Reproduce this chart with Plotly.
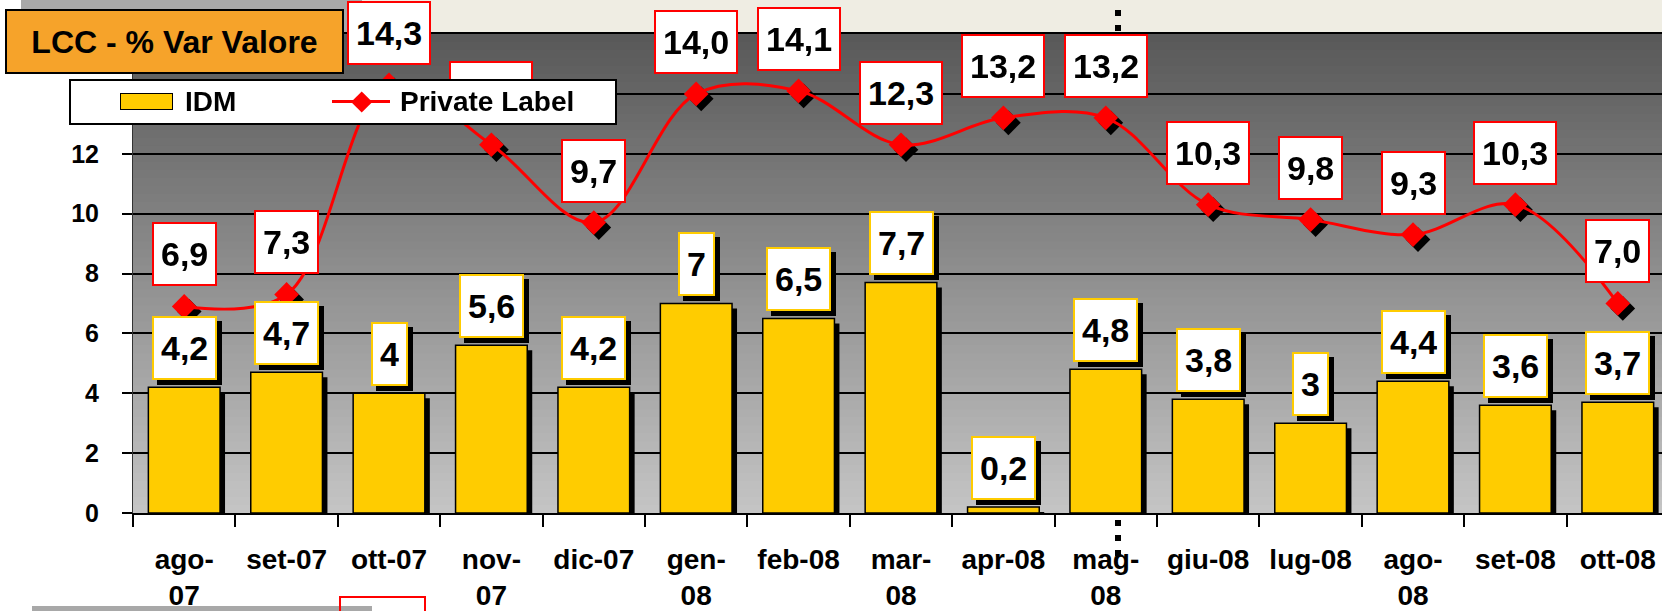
import plotly.graph_objects as go

# ---------------- data ----------------
categories = ["ago-07", "set-07", "ott-07", "nov-07", "dic-07", "gen-08", "feb-08",
              "mar-08", "apr-08", "mag-08", "giu-08", "lug-08", "ago-08", "set-08", "ott-08"]
tick_labels = ["ago-<br>07", "set-07", "ott-07", "nov-<br>07", "dic-07", "gen-<br>08", "feb-08",
               "mar-<br>08", "apr-08", "mag-<br>08", "giu-08", "lug-08", "ago-<br>08", "set-08", "ott-08"]
idm_values = [4.2, 4.7, 4.0, 5.6, 4.2, 7.0, 6.5, 7.7, 0.2, 4.8, 3.8, 3.0, 4.4, 3.6, 3.7]
pl_values = [6.9, 7.3, 14.3, 12.3, 9.7, 14.0, 14.1, 12.3, 13.2, 13.2, 10.3, 9.8, 9.3, 10.3, 7.0]
y_ticks = [0, 2, 4, 6, 8, 10, 12, 14, 16]
title_text = "LCC - % Var Valore"
series_names = ["IDM", "Private Label"]

# ---------------- geometry / style ----------------
W, H = 1662, 611
PL_, PR_, PT_, PB_ = 133, 1662, 34, 513          # plot area in pixels
CAT_PX = 102.4
X_RANGE = [-0.5, -0.5 + (PR_ - PL_) / CAT_PX]
Y_RANGE = [0, 16]
SH = 5  # shadow offset px
dxu = SH / CAT_PX
dyu = SH / ((PB_ - PT_) / (Y_RANGE[1] - Y_RANGE[0]))

FONT = "Liberation Sans, Arial, sans-serif"
YELLOW = "#FFCC00"
RED = "#FF0000"
ORANGE = "#F6A32A"


def px(xp):
    return (xp - PL_) / (PR_ - PL_)


def py(yp):
    return (PB_ - yp) / (PB_ - PT_)


def fmt_idm(v):
    s = ("%.1f" % v)
    if s.endswith(".0"):
        s = s[:-2]
    return s.replace(".", ",")


def fmt_pl(v):
    return ("%.1f" % v).replace(".", ",")


fig = go.Figure()

# invisible base trace so the base category axis knows its categories
fig.add_trace(go.Scatter(x=categories, y=idm_values, mode="markers", opacity=0,
                         hoverinfo="skip", showlegend=False, xaxis="x", yaxis="y"))
# shadows (shifted axes)
fig.add_trace(go.Bar(x=categories, y=idm_values, marker=dict(color="black", line=dict(width=0)),
                     width=0.7, showlegend=False, hoverinfo="skip", xaxis="x2", yaxis="y2"))
fig.add_trace(go.Scatter(x=categories, y=pl_values, mode="markers",
                         marker=dict(symbol="diamond", size=19, color="black"),
                         showlegend=False, hoverinfo="skip", xaxis="x2", yaxis="y2"))
# main traces
fig.add_trace(go.Bar(x=categories, y=idm_values, name=series_names[0],
                     marker=dict(color=YELLOW, line=dict(color="black", width=1.5)),
                     width=0.7, showlegend=False, xaxis="x3", yaxis="y3"))
fig.add_trace(go.Scatter(x=categories, y=pl_values, name=series_names[1], mode="lines+markers",
                         line=dict(color=RED, width=3, shape="spline", smoothing=1.0),
                         marker=dict(symbol="diamond", size=19, color=RED),
                         showlegend=False, xaxis="x3", yaxis="y3"))

# ---------------- background shapes ----------------
shapes = []
# cream strip above plot
shapes.append(dict(type="rect", xref="paper", yref="paper", x0=px(344), x1=px(1662), y0=py(34), y1=py(0),
                   fillcolor="#efede3", line=dict(width=0), layer="below"))
# hatched gray block at top-left
shapes.append(dict(type="rect", xref="paper", yref="paper", x0=px(21), x1=px(362), y0=py(57), y1=py(0),
                   fillcolor="#a8a8a8", line=dict(width=0), layer="below"))
# dotted separator
shapes.append(dict(type="line", xref="paper", yref="paper", x0=px(1118), x1=px(1118), y0=py(556), y1=py(10),
                   line=dict(color="black", width=6, dash="6px,9px"), layer="below"))
# bottom decorations
shapes.append(dict(type="rect", xref="paper", yref="paper", x0=px(32), x1=px(372), y0=py(615), y1=py(606),
                   fillcolor="#a8a8a8", line=dict(width=0), layer="below"))
shapes.append(dict(type="rect", xref="paper", yref="paper", x0=px(340), x1=px(425), y0=py(620), y1=py(597),
                   fillcolor="rgba(0,0,0,0)", line=dict(color=RED, width=2), layer="below"))
# gradient plot background
NB = 60
c_top = (88, 88, 88)
c_bot = (197, 197, 197)
for i in range(NB):
    t = (i + 0.5) / NB
    c = tuple(int(round(c_bot[k] + (c_top[k] - c_bot[k]) * t)) for k in range(3))
    shapes.append(dict(type="rect", xref="x domain", yref="y domain", x0=0, x1=1,
                       y0=i / NB, y1=(i + 1) / NB + 0.002,
                       fillcolor="rgb(%d,%d,%d)" % c, line=dict(width=0), layer="below"))

# ---------------- annotations ----------------
ann = []
lab_font = dict(family=FONT, size=34, color="black", weight="bold")
LAB_H, LAB_PAD = 46, 7
for c, v in zip(categories, idm_values):
    ann.append(dict(x=c, y=v, xref="x", yref="y", text=fmt_idm(v), showarrow=False,
                    xanchor="center", yanchor="bottom", xshift=SH, yshift=7 - SH,
                    font=dict(lab_font, color="black"), bgcolor="black", height=LAB_H,
                    bordercolor="black", borderwidth=2, borderpad=LAB_PAD))
    ann.append(dict(x=c, y=v, xref="x", yref="y", text=fmt_idm(v), showarrow=False,
                    xanchor="center", yanchor="bottom", yshift=7, height=LAB_H,
                    font=lab_font, bgcolor="white",
                    bordercolor=YELLOW, borderwidth=2, borderpad=LAB_PAD))
for c, v in zip(categories, pl_values):
    ann.append(dict(x=c, y=v, xref="x", yref="y", text=fmt_pl(v), showarrow=False,
                    xanchor="center", yanchor="bottom", yshift=20, height=LAB_H,
                    font=lab_font, bgcolor="white",
                    bordercolor=RED, borderwidth=2, borderpad=LAB_PAD))

# legend (drawn as annotations so it sits above the data labels)
leg_font = dict(family=FONT, size=28, color="black", weight="bold")
ann.append(dict(x=px(69), y=py(79), xref="paper", yref="paper", text=" ", showarrow=False,
                xanchor="left", yanchor="top", width=544, height=42, bgcolor="white",
                bordercolor="black", borderwidth=2, borderpad=0))
ann.append(dict(x=px(120), y=py(93), xref="paper", yref="paper", text=" ", showarrow=False,
                xanchor="left", yanchor="top", width=51, height=15, bgcolor=YELLOW,
                bordercolor="black", borderwidth=1, borderpad=0))
ann.append(dict(x=px(183), y=py(102), xref="paper", yref="paper", text=series_names[0], showarrow=False,
                xanchor="left", yanchor="middle", font=leg_font))
ann.append(dict(x=px(332), y=py(102), xref="paper", yref="paper", text=" ", showarrow=False,
                xanchor="left", yanchor="middle", width=58, height=3, bgcolor=RED, borderwidth=0, borderpad=0))
ann.append(dict(x=px(361), y=py(102), xref="paper", yref="paper", text=" ", showarrow=False,
                xanchor="center", yanchor="middle", width=15, height=15, bgcolor=RED, textangle=45,
                borderwidth=0, borderpad=0))
ann.append(dict(x=px(398), y=py(102), xref="paper", yref="paper", text=series_names[1], showarrow=False,
                xanchor="left", yanchor="middle", font=leg_font))
# title box
ann.append(dict(x=px(5), y=py(9), xref="paper", yref="paper", text=title_text, showarrow=False,
                xanchor="left", yanchor="top", width=335, height=61, bgcolor=ORANGE,
                bordercolor="black", borderwidth=2, borderpad=0,
                font=dict(family=FONT, size=32, color="black", weight="bold")))

tickfont_y = dict(family=FONT, size=25, color="black", weight="bold")
tickfont_x = dict(family=FONT, size=28, color="black", weight="bold")

fig.update_layout(
    width=W, height=H,
    margin=dict(l=PL_, r=W - PR_, t=PT_, b=H - PB_, pad=0),
    paper_bgcolor="white", plot_bgcolor="rgba(0,0,0,0)",
    showlegend=False, barmode="overlay",
    shapes=shapes, annotations=ann,
    xaxis=dict(type="category", categoryorder="array", categoryarray=categories,
               range=X_RANGE, tickmode="array", tickvals=categories, ticktext=tick_labels,
               tickson="boundaries", ticks="outside", ticklen=12, tickwidth=1.5, tickcolor="black",
               showline=True, linecolor="black", linewidth=2, mirror=True,
               showgrid=False, zeroline=False, tickfont=tickfont_x, ticklabelstandoff=20),
    yaxis=dict(range=Y_RANGE, tickmode="array", tickvals=y_ticks, ticks="outside", ticklen=10,
               tickwidth=2, tickcolor="black", showline=True, linecolor="#333333", linewidth=1,
               showgrid=True, gridcolor="black", gridwidth=2, zeroline=False,
               tickfont=tickfont_y, ticklabelstandoff=18),
    xaxis2=dict(type="category", categoryorder="array", categoryarray=categories,
                range=[X_RANGE[0] - dxu, X_RANGE[1] - dxu], overlaying="x", visible=False),
    yaxis2=dict(range=[Y_RANGE[0] + dyu, Y_RANGE[1] + dyu], overlaying="y", visible=False),
    xaxis3=dict(type="category", categoryorder="array", categoryarray=categories,
                range=X_RANGE, overlaying="x", visible=False),
    yaxis3=dict(range=Y_RANGE, overlaying="y", visible=False),
)

fig.write_html("out.html", config={"displayModeBar": False},
               post_script="document.body.style.margin='0px';document.body.style.overflow='hidden';")
